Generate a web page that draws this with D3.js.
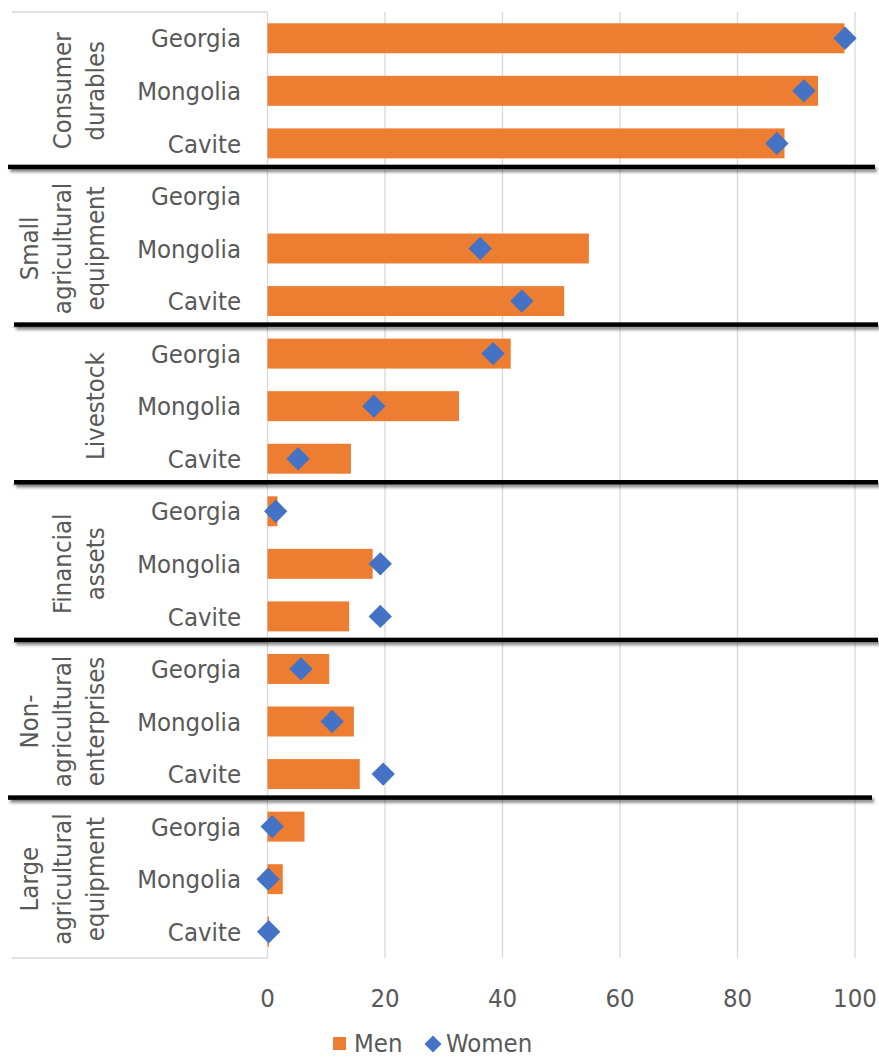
<!DOCTYPE html>
<html>
<head>
<meta charset="utf-8">
<script src="https://cdn.jsdelivr.net/npm/d3@7"></script>
<style>
  body { margin: 0; background: #fff; }
  text { font-family: Tahoma, "DejaVu Sans Condensed", "DejaVu Sans", sans-serif; fill: #595959; }
</style>
</head>
<body>
<script>
const groups = [
  ['Consumer', 'durables'],
  ['Small', 'agricultural', 'equipment'],
  ['Livestock'],
  ['Financial', 'assets'],
  ['Non-', 'agricultural', 'enterprises'],
  ['Large', 'agricultural', 'equipment']
]
const countries = ['Georgia', 'Mongolia', 'Cavite']

// one value per country, per group (in group order)
const men = [
  [98.2, 93.7, 88.0],
  [null, 54.7, 50.5],
  [41.4, 32.6, 14.2],
  [1.7, 17.9, 13.9],
  [10.5, 14.7, 15.7],
  [6.3, 2.6, 0.25]
]
const women = [
  [98.3, 91.3, 86.7],
  [null, 36.2, 43.3],
  [38.4, 18.1, 5.2],
  [1.4, 19.2, 19.2],
  [5.7, 11.0, 19.7],
  [0.8, 0.1, 0.2]
]
const xTicks = [0, 20, 40, 60, 80, 100]

const width = 879, height = 1057
const plotLeft = 267.5, plotRight = 855, plotTop = 12, plotBottom = 958
const fontSize = 25.5

const rows = []
groups.forEach((g, gi) => countries.forEach((c, ci) => {
  rows.push({ key: gi + '|' + c, group: gi, country: c, men: men[gi][ci], women: women[gi][ci] })
}))

const svg = d3.select('body').append('svg')
  .attr('width', width)
  .attr('height', height)

const defs = svg.append('defs')
defs.append('filter')
  .attr('id', 'shadow')
  .attr('filterUnits', 'userSpaceOnUse')
  .attr('x', 0).attr('y', 0)
  .attr('width', width).attr('height', height)
  .append('feDropShadow')
  .attr('dx', 2).attr('dy', 3)
  .attr('stdDeviation', 1.6)
  .attr('flood-color', '#000')
  .attr('flood-opacity', 0.45)

const x = d3.scaleLinear().domain([0, 100]).range([plotLeft, plotRight])
const y = d3.scaleBand()
  .domain(rows.map(d => d.key))
  .range([plotTop, plotBottom])
  .paddingInner(0.43)
  .paddingOuter(0.215)

const step = y.step()
const groupTop = gi => plotTop + gi * 3 * step

// gridlines
svg.append('g')
  .selectAll('line')
  .data(xTicks.slice(1))
  .join('line')
  .attr('x1', d => x(d)).attr('x2', d => x(d))
  .attr('y1', plotTop).attr('y2', plotBottom)
  .attr('stroke', '#d9d9d9')
  .attr('stroke-width', 1.3)

// category axis lines (left label area)
const axisG = svg.append('g').attr('stroke', '#d9d9d9').attr('stroke-width', 1.3)
axisG.append('line')
  .attr('x1', plotLeft).attr('x2', plotLeft)
  .attr('y1', plotTop).attr('y2', plotBottom)
axisG.selectAll('line.sep')
  .data(d3.range(groups.length + 1))
  .join('line')
  .attr('class', 'sep')
  .attr('x1', 12).attr('x2', plotLeft)
  .attr('y1', d => groupTop(d)).attr('y2', d => groupTop(d))

// bars
svg.append('g')
  .selectAll('rect')
  .data(rows.filter(d => d.men != null))
  .join('rect')
  .attr('x', x(0))
  .attr('y', d => y(d.key))
  .attr('width', d => x(d.men) - x(0))
  .attr('height', y.bandwidth())
  .attr('fill', '#ed7d31')

// diamonds
const diamond = d3.symbol().type(d3.symbolSquare).size(16.5 * 16.5)
svg.append('g')
  .selectAll('path')
  .data(rows.filter(d => d.women != null))
  .join('path')
  .attr('d', diamond)
  .attr('transform', d => `translate(${x(d.women)},${y(d.key) + y.bandwidth() / 2}) rotate(45)`)
  .attr('fill', '#4472c4')

// country labels
svg.append('g')
  .selectAll('text')
  .data(rows)
  .join('text')
  .attr('x', 241)
  .attr('y', d => y(d.key) + y.bandwidth() / 2)
  .attr('dy', '0.36em')
  .attr('text-anchor', 'end')
  .attr('font-size', fontSize)
  .text(d => d.country)

// group labels, rotated
const lineGap = 33
groups.forEach((lines, gi) => {
  const cy = groupTop(gi) + 1.5 * step
  const n = lines.length
  lines.forEach((t, li) => {
    const bx = 104 - (n - 1 - li) * lineGap
    svg.append('text')
      .attr('transform', `translate(${bx},${cy}) rotate(-90)`)
      .attr('text-anchor', 'middle')
      .attr('font-size', fontSize)
      .text(t)
  })
})

// thick black separators with shadow
svg.append('g')
  .attr('filter', 'url(#shadow)')
  .selectAll('rect')
  .data(d3.range(1, groups.length))
  .join('rect')
  .attr('x', d => d === 1 || d === 5 ? 8 : 14)
  .attr('width', d => d === 1 ? 867 : 864)
  .attr('y', d => groupTop(d) - 5)
  .attr('height', 4.5)
  .attr('fill', '#000')

// x tick labels
svg.append('g')
  .selectAll('text')
  .data(xTicks)
  .join('text')
  .attr('x', d => x(d))
  .attr('y', 998)
  .attr('dy', '0.36em')
  .attr('text-anchor', 'middle')
  .attr('font-size', fontSize)
  .text(d => d)

// legend
const leg = svg.append('g').attr('transform', 'translate(0,1043)')
leg.append('rect')
  .attr('x', 333).attr('y', -6)
  .attr('width', 13).attr('height', 13)
  .attr('fill', '#ed7d31')
leg.append('text')
  .attr('x', 354).attr('dy', '0.36em')
  .attr('font-size', fontSize)
  .text('Men')
leg.append('path')
  .attr('d', d3.symbol().type(d3.symbolSquare).size(12 * 12))
  .attr('transform', 'translate(433,1) rotate(45)')
  .attr('fill', '#4472c4')
leg.append('text')
  .attr('x', 446).attr('dy', '0.36em')
  .attr('font-size', fontSize)
  .text('Women')
</script>
</body>
</html>
